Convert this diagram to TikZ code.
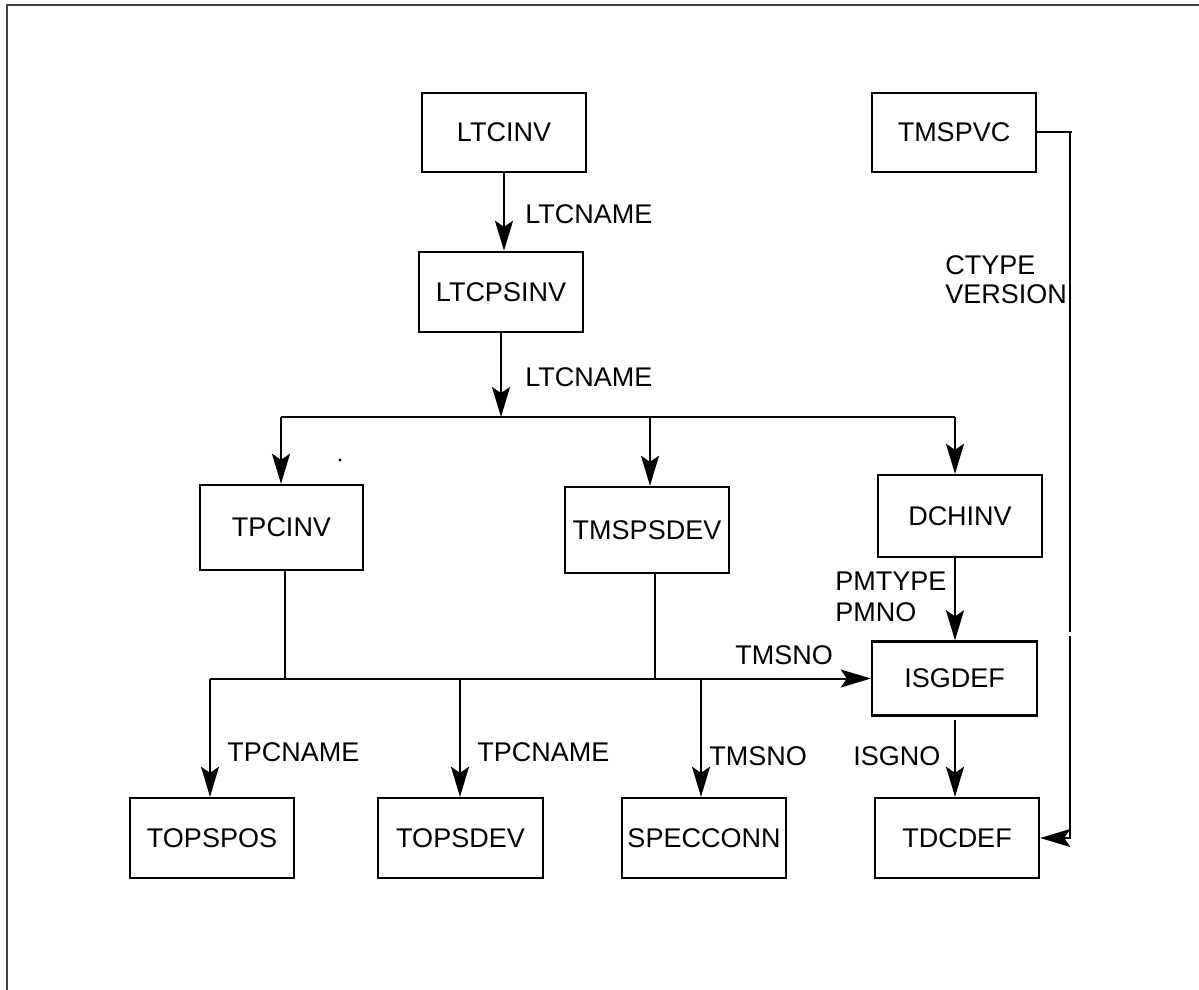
\documentclass[tikz,border=0pt]{standalone}
\usepackage{fontspec}
\setmainfont{Liberation Sans}
\usetikzlibrary{arrows.meta}
\begin{document}
\begin{tikzpicture}[x=0.5pt,y=-0.5pt,
  box/.style={draw, line width=1.2pt, inner sep=0pt, minimum width=82pt, minimum height=40pt, font=\fontsize{13.5}{16}\selectfont},
  lab/.style={anchor=west, inner sep=0pt, font=\fontsize{13.5}{16}\selectfont, align=left},
  conn/.style={line width=1pt},
  arr/.style={line width=1pt, -{Stealth[length=15pt,width=9pt,inset=3pt]}},
  frame/.style={draw=black!75, line width=1.4pt}]
\useasboundingbox (0,0) rectangle (1199,990);
\draw[frame] (7,990) -- (7,5) -- (1199,5);

% boxes
\node[box, minimum height=39.5pt] (ltcinv) at (504,132.5) {LTCINV};
\node[box] (ltcpsinv) at (501,292) {LTCP\rlap{\kern-0.02em\raisebox{0.25ex}{.}}SINV};
\node[box, minimum width=81.5pt, minimum height=42.5pt] (tpcinv) at (281.5,527.5) {TPCINV};
\node[box, minimum height=43pt] (tmspsdev) at (647,530) {TMSPSDEV};
\node[box, minimum height=41pt] (dchinv) at (960,516) {DCHINV};
\node[box, minimum width=82.5pt, minimum height=37pt] (isgdef) at (954.5,678.5) {ISGDEF};
\node[box] (tdcdef) at (957,838) {TDCDEF};
\node[box] (topspos) at (212,838) {TOPSPOS};
\node[box, minimum width=82.5pt] (topsdev) at (460.5,838) {TOPSDEV};
\node[box] (specconn) at (704,838) {SPECCONN};
\node[box, minimum height=39.5pt] (tmspvc) at (954,132.5) {TMSPVC};

% upper bus
\coordinate (bt) at (501,417);
\coordinate (b1) at (281,417);
\coordinate (b2) at (650,417);
\coordinate (b3) at (955,417);
\draw[arr] (ltcinv.south) -- (ltcinv.south |- ltcpsinv.north);
\draw[arr] (ltcpsinv.south) -- (bt);
\draw[conn] (b1) -- (b3);
\draw[arr] (b1) -- (b1 |- tpcinv.north);
\draw[arr] (b2) -- (b2 |- tmspsdev.north);
\draw[arr] (b3) -- (b3 |- dchinv.north);
\draw[arr] (b3 |- dchinv.south) -- (b3 |- isgdef.north);
\coordinate (i1) at (955,720);
\draw[arr] (i1) -- (i1 |- tdcdef.north);

% lower bus
\coordinate (l1) at (210,678.5);
\coordinate (l2) at (460,678.5);
\coordinate (l3) at (701,678.5);
\coordinate (u1) at (285,678.5);
\coordinate (u2) at (655,678.5);
\draw[conn] (u1 |- tpcinv.south) -- (u1);
\draw[conn] (u2 |- tmspsdev.south) -- (u2);
\draw[arr] (l1) -- (isgdef.west);
\draw[arr] (l1) -- (l1 |- topspos.north);
\draw[arr] (l2) -- (l2 |- topsdev.north);
\draw[arr] (l3) -- (l3 |- specconn.north);

% right side line
\coordinate (r1) at (1070,132.5);
\coordinate (r2) at (1070,632);
\coordinate (r3) at (1070,636);
\draw[conn] (tmspvc.east) -- (1072,132.5);
\draw[conn] (r1) -- (r2);
\draw[arr] (r3) |- (tdcdef.east);

% stray dot
\fill (340,460) circle (0.8pt);

% labels
\node[lab] at (525,214) {LTCNAME};
\node[lab] at (525,377) {LTCNAME};
\node[lab] at (945,265) {CTYPE};
\node[lab] at (945,294) {VERSION};
\node[lab] at (835,581) {PMTYPE};
\node[lab] at (835,612) {PMNO};
\node[lab] at (735,655) {TMSNO};
\node[lab] at (853,756) {ISGNO};
\node[lab] at (227,752) {TPCNAME};
\node[lab] at (477,752) {TPCNAME};
\node[lab] at (709,756) {TMSNO};
\end{tikzpicture}
\end{document}
